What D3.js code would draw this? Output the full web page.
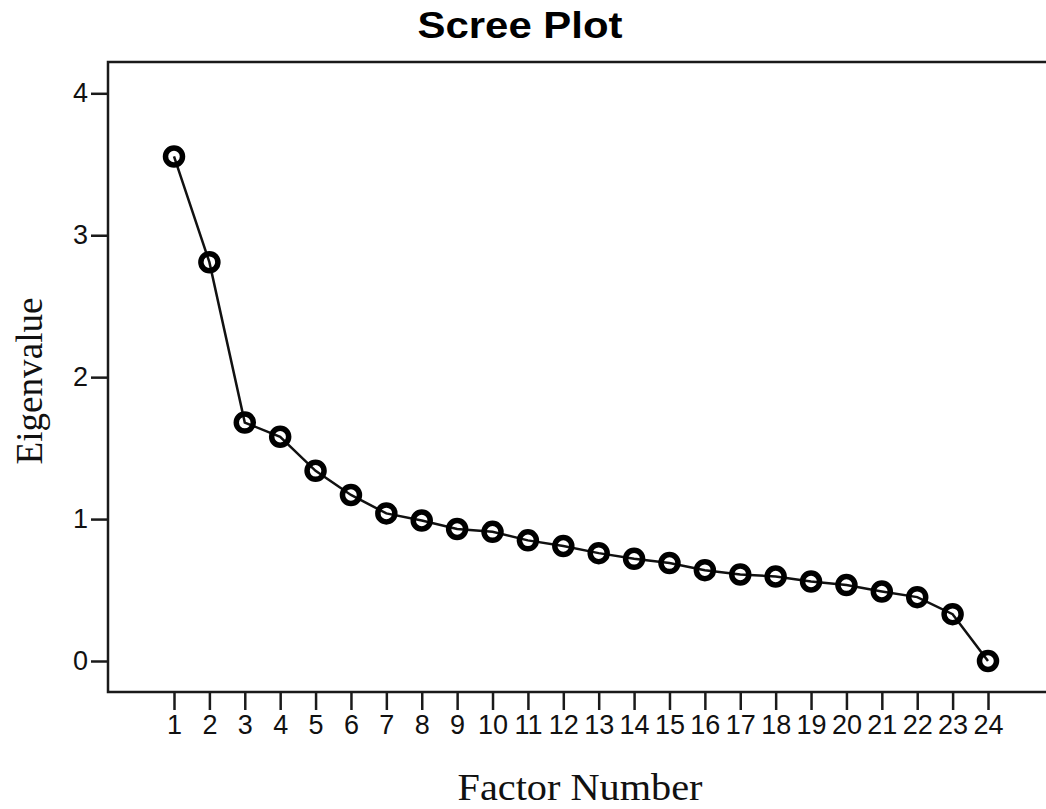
<!DOCTYPE html>
<html><head><meta charset="utf-8">
<script src="https://cdn.jsdelivr.net/npm/d3@7"></script>
<style>html,body{margin:0;padding:0;background:#fff;overflow:hidden;}</style>
</head><body>
<script>
const factors = [1,2,3,4,5,6,7,8,9,10,11,12,13,14,15,16,17,18,19,20,21,22,23,24];
const eigenvalues = [3.555,2.81,1.68,1.58,1.34,1.17,1.04,0.99,0.93,0.91,0.85,0.81,0.76,0.72,0.69,0.64,0.61,0.595,0.56,0.535,0.49,0.45,0.33,0.0];
const yTicks = [0,1,2,3,4];
const title = "Scree Plot";
const xTitle = "Factor Number";
const yTitle = "Eigenvalue";

const W = 1046, H = 809;
const svg = d3.select("body").append("svg").attr("width", W).attr("height", H).style("display","block");

const frame = {left:108, top:62, bottom:692, right:1060};
const x = d3.scaleLinear().domain([1,24]).range([174,988]);
const y = d3.scaleLinear().domain([0,4]).range([661,93.3]);

// frame lines
svg.append("path")
  .attr("d", `M${frame.right},${frame.top}H${frame.left}V${frame.bottom}H${frame.right}`)
  .attr("fill","none").attr("stroke","#1a1a1a").attr("stroke-width",2.5);

// x axis
const xAxis = svg.append("g").attr("transform",`translate(0,${frame.bottom})`)
  .call(d3.axisBottom(x).tickValues(factors).tickFormat(d3.format("d")).tickSize(18).tickPadding(5));
xAxis.select(".domain").remove();
xAxis.selectAll("line").attr("stroke","#1a1a1a").attr("stroke-width",2.5);
xAxis.selectAll("text").attr("font-family","'Liberation Sans', Arial, sans-serif").attr("font-size",27).attr("fill","#111");

// y axis
const yAxis = svg.append("g").attr("transform",`translate(${frame.left},0)`)
  .call(d3.axisLeft(y).tickValues(yTicks).tickFormat(d3.format("d")).tickSize(17).tickPadding(3));
yAxis.select(".domain").remove();
yAxis.selectAll("line").attr("stroke","#1a1a1a").attr("stroke-width",2.5);
yAxis.selectAll("text").attr("font-family","'Liberation Sans', Arial, sans-serif").attr("font-size",27).attr("fill","#111");

// line
const pts = factors.map((f,i)=>({f, v:eigenvalues[i]}));
svg.append("path").datum(pts)
  .attr("d", d3.line().x(d=>x(d.f)).y(d=>y(d.v)))
  .attr("fill","none").attr("stroke","#111").attr("stroke-width",2.5);

svg.append("g").selectAll("circle").data(pts).join("circle")
  .attr("cx", d=>x(d.f)).attr("cy", d=>y(d.v)).attr("r", 8.5)
  .attr("fill","none").attr("stroke","#000").attr("stroke-width",5.5);

// titles
svg.append("text").attr("x",520).attr("y",38).attr("text-anchor","middle")
  .attr("font-family","'Liberation Sans', Arial, sans-serif").attr("font-weight","bold")
  .attr("font-size",37).attr("textLength",205).attr("lengthAdjust","spacingAndGlyphs")
  .attr("fill","#000").text(title);

svg.append("text").attr("x",580).attr("y",800).attr("text-anchor","middle")
  .attr("font-family","'Liberation Serif', 'Times New Roman', serif")
  .attr("font-size",37).attr("textLength",245).attr("lengthAdjust","spacingAndGlyphs")
  .attr("fill","#111").text(xTitle);

svg.append("text").attr("transform","translate(42,381) rotate(-90)").attr("text-anchor","middle")
  .attr("font-family","'Liberation Serif', 'Times New Roman', serif")
  .attr("font-size",37).attr("textLength",167).attr("lengthAdjust","spacingAndGlyphs")
  .attr("fill","#111").text(yTitle);
</script>
</body></html>
